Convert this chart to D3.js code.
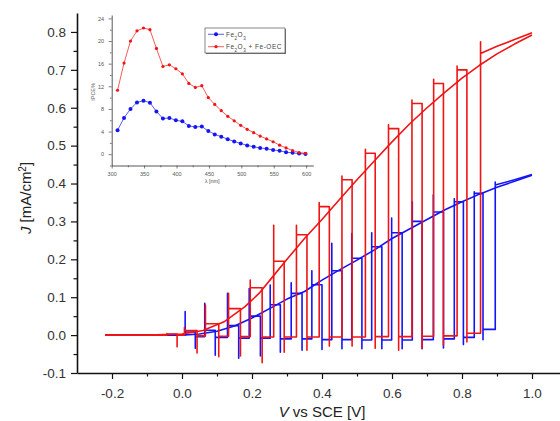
<!DOCTYPE html>
<html>
<head>
<meta charset="utf-8">
<script src="https://cdnjs.cloudflare.com/ajax/libs/d3/7.8.5/d3.min.js"></script>
<style>
  body { margin: 0; background: #fff; }
  svg { display: block; font-family: "Liberation Sans", Arial, sans-serif; }
</style>
</head>
<body>
<div id="chart"></div>
<script>
// ---- main plot: chopped-light J-V scans ----
// axis ticks
const xMajor = [-0.2, 0.0, 0.2, 0.4, 0.6, 0.8, 1.0];
const xMinor = [-0.1, 0.1, 0.3, 0.5, 0.7, 0.9];
const yMajor = [-0.1, 0.0, 0.1, 0.2, 0.3, 0.4, 0.5, 0.6, 0.7, 0.8];
const yMinor = [-0.05, 0.05, 0.15, 0.25, 0.35, 0.45, 0.55, 0.65, 0.75];

// Fe2O3 + Fe-OEC (red): light on / off potentials and currents
const redStart = [-0.22, 0.0];
const redOn   = [-0.043, 0.007, 0.067, 0.133, 0.195, 0.262, 0.327, 0.392, 0.457, 0.524, 0.590, 0.657, 0.719, 0.786, 0.853];
const redOff  = [-0.014, 0.043, 0.105, 0.167, 0.229, 0.292, 0.357, 0.421, 0.486, 0.552, 0.619, 0.686, 0.747, 0.814];
const redPeak = [0.004, 0.02, 0.079, 0.11, 0.145, 0.29, 0.29, 0.35, 0.42, 0.49, 0.555, 0.62, 0.675, 0.71, 0.774];
const redTop  = [0.003, 0.012, 0.03, 0.07, 0.125, 0.195, 0.265, 0.339, 0.41, 0.48, 0.545, 0.611, 0.664, 0.70, 0.743];
const redDip  = [-0.031, -0.047, -0.057, -0.055, -0.073, -0.045, -0.040, -0.029, -0.029, -0.035, -0.040, -0.035, -0.026, -0.018];
const redDark = [0.0, 0.0, -0.002, -0.003, -0.004, -0.005, -0.005, -0.005, -0.005, -0.005, -0.004, -0.004, -0.003, -0.002, 0.005];
const redEnd  = [[0.9, 0.762], [0.95, 0.78], [1.0, 0.798]];
// return scan under light
const redBack = [[1.0, 0.792], [0.95, 0.768], [0.9, 0.742], [0.85, 0.712], [0.8, 0.678], [0.75, 0.64],
  [0.7, 0.6], [0.65, 0.557], [0.6, 0.51], [0.55, 0.46], [0.5, 0.41], [0.45, 0.358], [0.4, 0.305],
  [0.35, 0.255], [0.3, 0.2], [0.26, 0.155], [0.22, 0.11], [0.18, 0.075], [0.12, 0.035], [0.06, 0.012],
  [0.0, 0.003], [-0.1, 0.0], [-0.22, 0.0]];

// Fe2O3 (blue)
const blueStart = [-0.22, 0.0];
const blueOn   = [0.009, 0.065, 0.130, 0.192, 0.252, 0.312, 0.371, 0.428, 0.485, 0.542, 0.599, 0.658, 0.718, 0.778, 0.835, 0.895];
const blueOff  = [0.038, 0.095, 0.162, 0.224, 0.281, 0.343, 0.400, 0.457, 0.514, 0.571, 0.629, 0.686, 0.747, 0.804, 0.860];
const bluePeak = [0.062, 0.084, 0.11, 0.123, 0.132, 0.138, 0.17, 0.242, 0.268, 0.27, 0.309, 0.352, 0.37, 0.36, 0.378, 0.404];
const blueTop  = [0.008, 0.013, 0.025, 0.05, 0.08, 0.11, 0.133, 0.17, 0.203, 0.233, 0.27, 0.30, 0.325, 0.352, 0.374, 0.396];
const blueDip  = [-0.035, -0.053, -0.061, -0.055, -0.045, -0.04, -0.038, -0.036, -0.036, -0.036, -0.036, -0.036, -0.034, -0.025, -0.012];
const blueDark = [0.0, -0.004, -0.006, -0.008, -0.008, -0.01, -0.01, -0.012, -0.012, -0.013, -0.013, -0.013, -0.012, -0.01, -0.006, 0.015];
const blueEnd  = [[0.95, 0.41], [1.0, 0.424]];
const blueBack = [[1.0, 0.422], [0.95, 0.406], [0.9, 0.39], [0.85, 0.372], [0.8, 0.352], [0.75, 0.33],
  [0.7, 0.305], [0.65, 0.28], [0.6, 0.255], [0.55, 0.225], [0.5, 0.198], [0.45, 0.172], [0.4, 0.145],
  [0.35, 0.115], [0.3, 0.095], [0.25, 0.07], [0.2, 0.045], [0.15, 0.024], [0.1, 0.01], [0.05, 0.003],
  [0.0, 0.0], [-0.22, 0.0]];

// ---- inset: IPCE spectra ----
const wavelength = [309, 319, 329, 339, 349, 359, 369, 379, 389, 399, 409, 419, 429, 439, 449,
  459, 469, 479, 489, 499, 509, 519, 529, 539, 549, 559, 569, 579, 589, 599];
const ipceFe2O3 = [4.25, 6.4, 8.0, 9.15, 9.45, 9.1, 7.55, 6.3, 6.4, 6.0, 5.8, 5.0, 4.8, 4.9, 4.1,
  3.5, 3.1, 2.65, 2.25, 1.9, 1.55, 1.3, 1.1, 0.95, 0.75, 0.6, 0.35, 0.25, 0.1, 0.05];
const ipceOEC = [11.3, 16.1, 20.0, 21.8, 22.3, 22.0, 18.7, 15.5, 15.8, 15.1, 14.2, 12.5, 11.8, 12.1, 10.0,
  8.8, 7.7, 6.7, 5.9, 5.1, 4.4, 3.8, 3.2, 2.7, 2.2, 1.6, 1.1, 0.65, 0.3, 0.15];
const insetXTicks = [300, 350, 400, 450, 500, 550, 600];
const insetXMinor = [325, 375, 425, 475, 525, 575];
const insetYTicks = [0, 4, 8, 12, 16, 20, 24];
const insetYMinor = [-2, 2, 6, 10, 14, 18, 22];

const RED = "#f01414", BLUE = "#1414f5";

const W = 560, H = 421;
const margin = {top: 13, right: 0, bottom: 48, left: 77};

const svg = d3.select("#chart").append("svg")
    .attr("width", W).attr("height", H);
svg.append("rect").attr("width", W).attr("height", H).attr("fill", "#fff");

const x = d3.scaleLinear().domain([-0.3, 1.08]).range([margin.left, W - margin.right]);
const y = d3.scaleLinear().domain([-0.1, 0.85]).range([H - margin.bottom, margin.top]);

// build the chopped trace: dark -> spike -> lit plateau -> off transient -> dark
function chopPoints(start, on, off, peak, top, dip, dark, end) {
    const pts = [start];
    on.forEach((v, i) => {
        pts.push([v, dark[i]], [v, peak[i]], [v, top[i]]);
        if (i < off.length) pts.push([off[i], top[i]], [off[i], dip[i]], [off[i], dark[i + 1]]);
    });
    return pts.concat(end);
}

const line = d3.line().x(d => x(d[0])).y(d => y(d[1]));

const traces = [
    {pts: blueBack, color: BLUE},
    {pts: chopPoints(blueStart, blueOn, blueOff, bluePeak, blueTop, blueDip, blueDark, blueEnd), color: BLUE},
    {pts: redBack, color: RED},
    {pts: chopPoints(redStart, redOn, redOff, redPeak, redTop, redDip, redDark, redEnd), color: RED}
];
svg.append("g").selectAll("path")
    .data(traces)
    .join("path")
        .attr("d", d => line(d.pts))
        .attr("fill", "none")
        .attr("stroke", d => d.color)
        .attr("stroke-width", 1.6)
        .attr("stroke-linejoin", "round");

// axes
const fmt = d => d.toFixed(1);
const xAxis = svg.append("g").attr("transform", `translate(0,${y(-0.1)})`);
xAxis.call(d3.axisBottom(x).tickValues(xMajor).tickFormat(fmt).tickSize(6).tickSizeOuter(0));
xAxis.append("g").call(d3.axisBottom(x).tickValues(xMinor).tickFormat("").tickSize(3.5).tickSizeOuter(0))
    .select(".domain").remove();

const yAxis = svg.append("g").attr("transform", `translate(${x(-0.3)},0)`);
yAxis.call(d3.axisLeft(y).tickValues(yMajor).tickFormat(fmt).tickSize(6).tickSizeOuter(0));
yAxis.append("g").call(d3.axisLeft(y).tickValues(yMinor).tickFormat("").tickSize(3.5).tickSizeOuter(0))
    .select(".domain").remove();

[xAxis, yAxis].forEach(a => {
    a.selectAll(".domain").attr("stroke", "#111").attr("stroke-width", 1.6);
    a.selectAll(".tick line").attr("stroke", "#111").attr("stroke-width", 1.2);
    a.selectAll(".tick text").attr("fill", "#333")
        .style("font-size", "13.5px").style("font-family", "Liberation Sans, Arial, sans-serif");
});
xAxis.selectAll(".tick text").attr("dy", "1.15em");
yAxis.selectAll(".tick text").attr("dx", "-0.15em");

// axis titles
const xt = svg.append("text")
    .attr("x", 322).attr("y", 417)
    .attr("text-anchor", "middle")
    .style("font-size", "15px").attr("fill", "#222");
xt.append("tspan").style("font-style", "italic").text("V");
xt.append("tspan").text(" vs SCE [V]");

const yt = svg.append("text")
    .attr("transform", "translate(31,198) rotate(-90)")
    .attr("text-anchor", "middle")
    .style("font-size", "15px").attr("fill", "#222");
yt.append("tspan").style("font-style", "italic").text("J");
yt.append("tspan").text(" [mA/cm");
yt.append("tspan").attr("baseline-shift", "super").style("font-size", "10px").text("2");
yt.append("tspan").text("]");

// ---- inset ----
const ix = d3.scaleLinear().domain([300, 611]).range([111.7, 313.3]);
const iy = d3.scaleLinear().domain([-2, 24.6]).range([165.5, 15]);
const inset = svg.append("g");

const ixAxis = inset.append("g").attr("transform", `translate(0,${iy(-2)})`);
ixAxis.call(d3.axisBottom(ix).tickValues(insetXTicks).tickSize(3).tickSizeOuter(0));
ixAxis.append("g").call(d3.axisBottom(ix).tickValues(insetXMinor).tickFormat("").tickSize(1.8).tickSizeOuter(0))
    .select(".domain").remove();
const iyAxis = inset.append("g").attr("transform", `translate(${ix(300)},0)`);
iyAxis.call(d3.axisLeft(iy).tickValues(insetYTicks).tickSize(3).tickSizeOuter(0));
iyAxis.append("g").call(d3.axisLeft(iy).tickValues(insetYMinor).tickFormat("").tickSize(1.8).tickSizeOuter(0))
    .select(".domain").remove();
[ixAxis, iyAxis].forEach(a => {
    a.selectAll(".domain").attr("stroke", "#444").attr("stroke-width", 0.9);
    a.selectAll(".tick line").attr("stroke", "#444").attr("stroke-width", 0.7);
    a.selectAll(".tick text").attr("fill", "#555").style("font-size", "5.5px")
        .style("font-family", "Liberation Sans, Arial, sans-serif");
});
ixAxis.selectAll(".tick text").attr("dy", "0.8em");
iyAxis.selectAll(".tick text").attr("dx", "-0.3em");

inset.append("text")
    .attr("transform", `translate(95,${iy(11)}) rotate(-90)`)
    .attr("text-anchor", "middle")
    .style("font-size", "5.5px").attr("fill", "#666")
    .text("IPCE%");
inset.append("text")
    .attr("x", ix(455)).attr("y", 183)
    .attr("text-anchor", "middle")
    .style("font-size", "5.5px").attr("fill", "#555")
    .text("λ [nm]");

const ipceSeries = [
    {vals: ipceFe2O3, color: BLUE, r: 2},
    {vals: ipceOEC, color: RED, r: 1.6}
];
const iline = d3.line().x((d, i) => ix(wavelength[i])).y(d => iy(d));
ipceSeries.forEach(s => {
    inset.append("path")
        .attr("d", iline(s.vals))
        .attr("fill", "none").attr("stroke", s.color).attr("stroke-width", 0.7);
    inset.append("g").selectAll("circle")
        .data(s.vals)
        .join("circle")
            .attr("cx", (d, i) => ix(wavelength[i]))
            .attr("cy", d => iy(d))
            .attr("r", s.r)
            .attr("fill", s.color);
});

// inset legend
const lg = inset.append("g").attr("transform", "translate(205,28)");
lg.append("rect").attr("x", 1).attr("y", 1).attr("width", 80).attr("height", 25).attr("fill", "#777");
lg.append("rect").attr("width", 80).attr("height", 25).attr("fill", "#fff")
    .attr("stroke", "#555").attr("stroke-width", 0.7);
const legendItems = [
    {color: BLUE, r: 2, parts: [["Fe", 0], ["2", 1], ["O", 0], ["3", 1]]},
    {color: RED, r: 1.6, parts: [["Fe", 0], ["2", 1], ["O", 0], ["3", 1], [" + Fe-OEC", 0]]}
];
legendItems.forEach((it, k) => {
    const ly = 6.3 + k * 12.4;
    lg.append("line").attr("x1", 3).attr("x2", 19).attr("y1", ly).attr("y2", ly)
        .attr("stroke", it.color).attr("stroke-width", 0.7);
    lg.append("circle").attr("cx", 11).attr("cy", ly).attr("r", it.r).attr("fill", it.color);
    const t = lg.append("text").attr("x", 21).attr("y", ly + 2.2)
        .style("font-size", "6.5px").style("letter-spacing", "0.5px").attr("fill", "#444");
    it.parts.forEach(([s, sub]) => {
        const sp = t.append("tspan").text(s);
        if (sub) sp.attr("baseline-shift", "sub").style("font-size", "4.5px");
    });
});
</script>
</body>
</html>
